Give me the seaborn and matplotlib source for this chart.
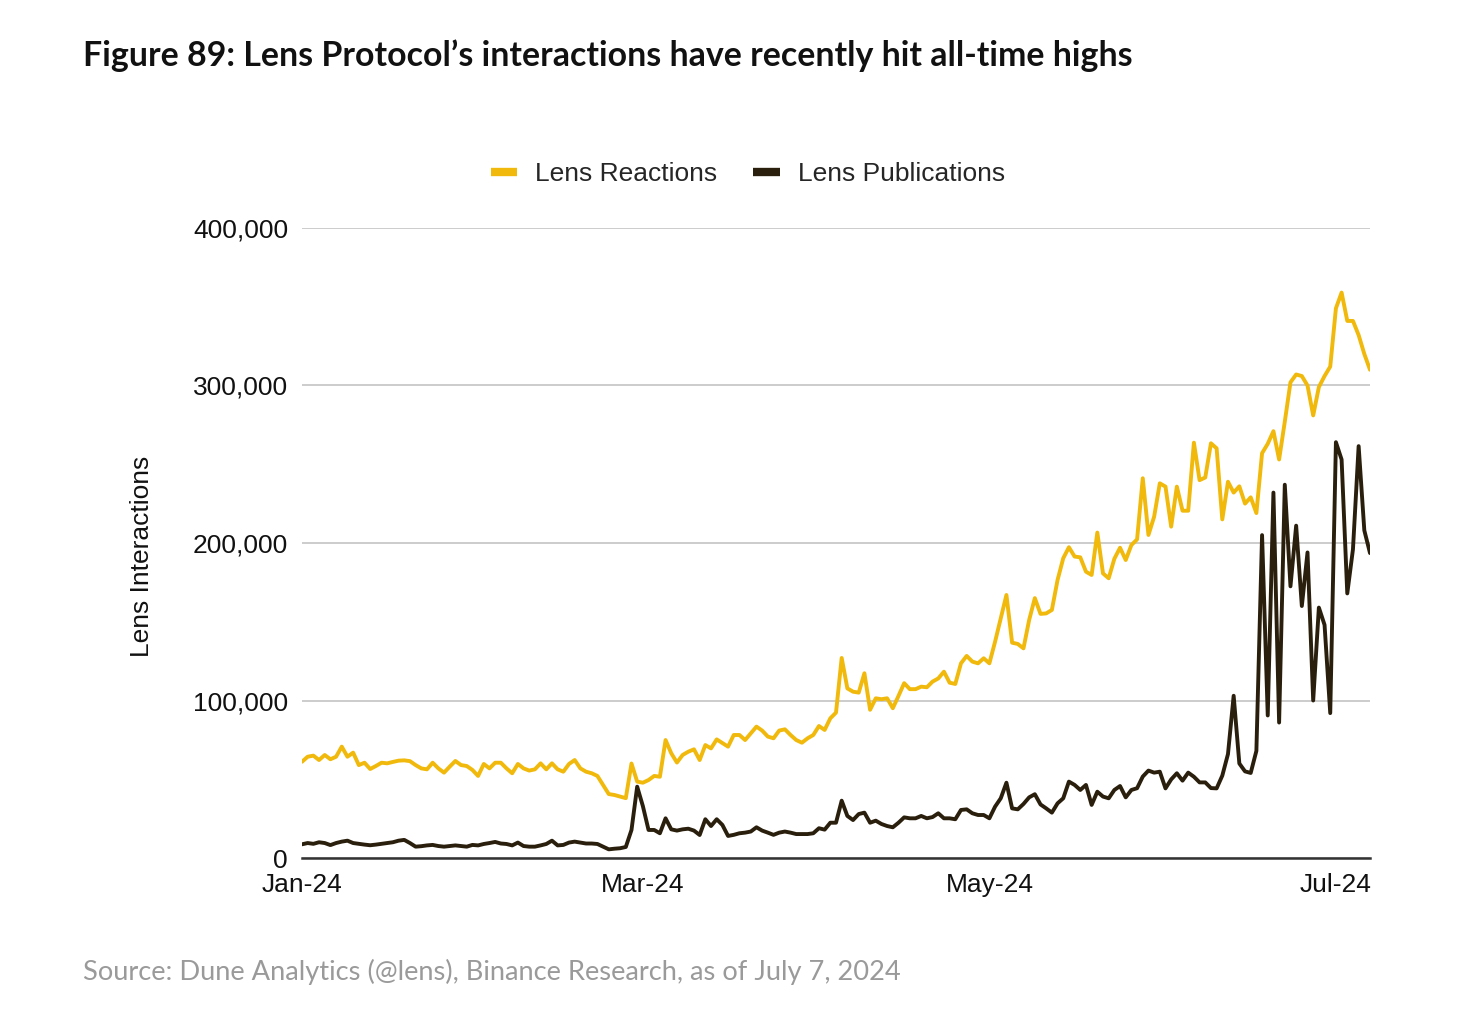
import numpy as np
import pandas as pd
import matplotlib
matplotlib.use("Agg")
import matplotlib.pyplot as plt
from matplotlib.lines import Line2D
from matplotlib.ticker import FuncFormatter
import seaborn as sns

# ---- data (thousands, daily from 2024-01-01 to 2024-07-07) ----
start_date = "2024-01-01"
reactions_k = [
    61.1, 64.3, 65.0, 62.2, 65.4, 62.7, 64.3, 70.7, 64.3, 66.9,
    59.0, 60.5, 56.5, 58.4, 60.5, 60.1, 61.0, 61.8, 62.0, 61.5,
    59.0, 56.9, 56.3, 60.5, 56.9, 54.2, 58.0, 61.6, 59.0, 58.4,
    55.9, 52.1, 59.7, 56.9, 60.5, 60.5, 56.9, 53.8, 59.7, 56.9,
    55.5, 56.3, 60.1, 56.3, 60.1, 56.3, 54.8, 59.7, 62.2, 56.9,
    54.8, 53.8, 52.1, 46.4, 40.6, 40.0, 39.0, 38.0, 60.0, 48.5,
    47.8, 49.5, 52.1, 51.6, 74.9, 66.5, 60.6, 65.4, 67.5, 69.0,
    62.2, 71.7, 69.6, 75.3, 73.0, 70.7, 78.1, 78.1, 74.9, 79.2,
    83.4, 80.9, 77.1, 76.0, 80.9, 81.7, 78.1, 74.9, 73.2, 76.0,
    78.1, 83.8, 81.3, 88.7, 92.3, 127.0, 107.7, 105.6, 105.0, 117.3,
    94.1, 101.4, 100.8, 101.4, 95.1, 102.9, 111.0, 107.2, 107.2, 108.8,
    108.4, 112.0, 114.0, 118.3, 111.3, 110.5, 123.6, 128.3, 124.7, 123.6,
    126.8, 123.6, 137.3, 152.2, 167.0, 136.7, 135.9, 133.1, 151.1, 165.0,
    155.0, 155.3, 157.5, 176.5, 190.3, 197.3, 191.4, 190.9, 181.8, 179.7,
    206.6, 180.7, 177.6, 190.0, 197.0, 189.2, 198.7, 202.3, 241.1, 205.1,
    216.7, 237.9, 235.8, 210.4, 235.8, 220.5, 220.5, 263.7, 239.9, 241.6,
    263.3, 260.1, 215.0, 238.9, 232.0, 236.0, 225.0, 229.0, 219.0, 257.0,
    263.0, 271.0, 253.0, 277.0, 302.0, 307.0, 306.0, 300.0, 281.0, 299.0,
    306.0, 312.0, 349.0, 359.0, 341.0, 341.0, 332.0, 320.0, 310.0,
]
publications_k = [
    8.7, 9.5, 9.0, 10.0, 9.5, 8.2, 9.5, 10.4, 11.0, 9.5,
    9.0, 8.5, 8.1, 8.5, 9.0, 9.5, 10.0, 11.0, 11.5, 9.5,
    7.2, 7.5, 8.0, 8.3, 7.6, 7.2, 7.6, 8.0, 7.6, 7.2,
    8.3, 8.0, 8.9, 9.5, 10.2, 9.2, 8.9, 8.0, 9.8, 7.6,
    7.2, 7.2, 8.0, 8.9, 11.0, 8.0, 8.3, 9.8, 10.4, 9.8,
    9.2, 9.2, 8.9, 7.2, 5.5, 5.9, 6.2, 7.0, 17.8, 45.3,
    33.0, 17.8, 17.8, 15.7, 25.2, 18.2, 17.4, 18.2, 18.6, 17.4,
    14.6, 24.6, 20.3, 24.6, 21.0, 14.0, 14.7, 15.7, 16.1, 16.8,
    19.5, 17.4, 16.1, 14.7, 16.1, 16.8, 16.1, 15.2, 15.2, 15.2,
    15.7, 18.9, 18.0, 22.4, 22.4, 36.4, 26.7, 24.1, 27.9, 28.8,
    22.4, 23.7, 21.6, 20.3, 19.5, 22.4, 25.8, 25.2, 25.2, 26.7,
    25.2, 26.0, 28.4, 25.2, 25.2, 24.6, 30.5, 30.9, 28.4, 27.3,
    27.3, 25.2, 32.6, 37.9, 47.8, 31.5, 30.9, 34.3, 38.5, 40.5,
    34.0, 31.5, 28.8, 34.7, 37.9, 48.5, 46.4, 43.2, 46.4, 33.7,
    42.1, 39.0, 37.9, 43.2, 45.7, 38.5, 43.2, 44.3, 51.7, 55.5,
    54.2, 54.8, 44.2, 49.9, 53.8, 49.1, 54.2, 51.6, 48.0, 48.0,
    44.4, 44.2, 52.3, 66.0, 103.0, 60.0, 55.0, 54.0, 68.0, 205.0,
    90.5, 232.0, 86.0, 237.0, 172.5, 211.0, 160.0, 194.0, 100.0, 159.0,
    148.0, 92.0, 264.0, 253.0, 168.0, 196.0, 261.5, 208.0, 193.6,
]
series_names = ["Lens Reactions", "Lens Publications"]
y_ticks = [0, 100000, 200000, 300000, 400000]
x_tick_dates = ["2024-01-01", "2024-03-01", "2024-05-01", "2024-07-01"]
x_tick_labels = ["Jan-24", "Mar-24", "May-24", "Jul-24"]
title = "Figure 89: Lens Protocol\u2019s interactions have recently hit all-time highs"
source = "Source: Dune Analytics (@lens), Binance Research, as of July 7, 2024"

colors = {"Lens Reactions": "#F0B90B", "Lens Publications": "#2A1F0C"}

dates = pd.date_range(start_date, periods=len(reactions_k), freq="D")
df = pd.concat([
    pd.DataFrame({"date": dates, "value": np.array(reactions_k) * 1000, "series": series_names[0]}),
    pd.DataFrame({"date": dates, "value": np.array(publications_k) * 1000, "series": series_names[1]}),
])

sns.set_theme(style="white")
plt.rcParams["font.family"] = ["Liberation Sans", "DejaVu Sans"]

fig = plt.figure(figsize=(14.6, 10.24), dpi=100)
ax = fig.add_axes([302 / 1460, 1 - 858 / 1024, (1370 - 302) / 1460, (858 - 228) / 1024])

sns.lineplot(data=df, x="date", y="value", hue="series", palette=colors,
             linewidth=2.8, ax=ax, legend=False, zorder=3)

ax.set_xlim(dates[0], dates[-1])
ax.set_ylim(0, 400000)
ax.set_yticks(y_ticks)
ax.yaxis.set_major_formatter(FuncFormatter(lambda v, p: f"{int(v):,}"))
ax.set_xticks(pd.to_datetime(x_tick_dates))
ax.set_xticklabels(x_tick_labels)
ax.tick_params(axis="both", length=0, labelsize=19, colors="#111111")
ax.tick_params(axis="y", pad=10)
ax.tick_params(axis="x", pad=11)
ax.grid(axis="y", color="#CCCCCC", linewidth=1.4, zorder=0)
ax.grid(axis="x", visible=False)
for s in ["top", "right", "left"]:
    ax.spines[s].set_visible(False)
ax.spines["bottom"].set_color("#333333")
ax.spines["bottom"].set_linewidth(1.8)
ax.spines["bottom"].set_zorder(4)
ax.set_xlabel("")
ax.set_ylabel("Lens Interactions", fontsize=19, color="#111111")
ax.yaxis.set_label_coords(-0.139, 0.479)

handles = [Line2D([0], [0], color=colors[n], lw=6, solid_capstyle="butt") for n in series_names]
fig.legend(handles, series_names, loc="center", bbox_to_anchor=(748 / 1460, 1 - 174 / 1024),
           ncol=2, frameon=False, fontsize=19, handlelength=1.0, handletextpad=0.68,
           columnspacing=1.36)

fig.text(83 / 1460, 1 - 56 / 1024, title, fontsize=24.4, fontweight="bold",
         family=["Lato", "DejaVu Sans"], color="#111111", va="center", ha="left")
fig.text(83 / 1460, 1 - 972 / 1024, source, fontsize=19.6, family=["Lato", "DejaVu Sans"],
         color="#9A9A9A", va="center", ha="left")

fig.savefig("out.png", dpi=100, facecolor="white")
